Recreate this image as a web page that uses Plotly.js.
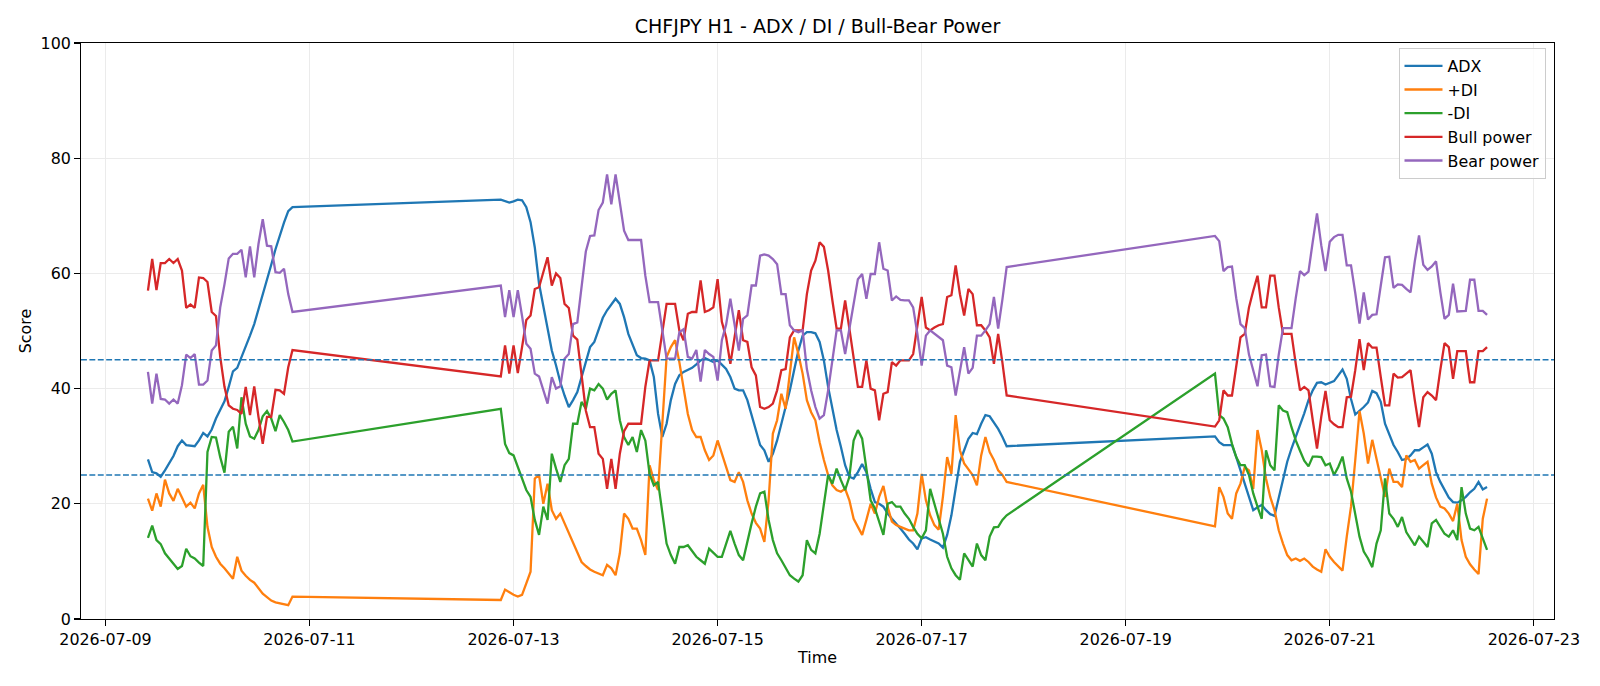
<!DOCTYPE html>
<html>
<head>
<meta charset="utf-8">
<script src="https://cdn.plot.ly/plotly-3.0.1.min.js"></script>
<style>
  html, body { margin: 0; padding: 0; background: #ffffff; }
  #chart { width: 1600px; height: 686px; }
</style>
</head>
<body>
<div id="chart"></div>
<script>
// ---- Data (hourly bars, CHFJPY H1; market closed over weekends) ----
const segmentStarts = ['2026-07-09 10:00', '2026-07-12 21:00', '2026-07-19 21:00'];
const segmentLengths = [35, 120, 65];

const adx = [
  // 2026-07-09 10:00 .. 2026-07-10 20:00
  27.7, 25.5, 25.3, 24.7, 25.8, 27.0, 28.3, 30.0, 31.0, 30.2, 30.1, 30.0, 31.0, 32.3, 31.7, 32.9, 34.8, 36.3,
  37.8, 40.3, 43.0, 43.6, 45.4, 47.5, 49.2, 51.2, 53.7, 56.2, 58.7, 61.5, 64.2, 66.7, 68.8, 70.8, 71.5,
  // 2026-07-12 21:00 .. 2026-07-17 20:00
  72.8, 72.5, 72.3, 72.5, 72.8, 72.7, 71.5, 68.9, 64.5, 58.2, 54.1, 50.4, 46.6, 44.0, 41.1, 38.8, 36.8, 38.0,
  39.4, 42.0, 44.6, 47.2, 48.1, 50.4, 52.3, 53.6, 54.7, 55.6, 54.7, 52.4, 49.5, 47.7, 45.8, 45.3, 45.2, 44.9,
  42.0, 35.6, 31.6, 33.9, 38.0, 40.8, 42.3, 42.9, 43.3, 43.6, 44.2, 44.9,
  45.3, 45.0, 44.6, 44.9, 44.2, 43.4, 42.0, 40.0, 39.7, 39.7, 38.0, 35.4, 32.5, 30.2, 29.3, 27.3, 28.7, 31.0,
  33.9, 36.8, 39.7, 43.2, 46.6, 49.2, 49.8, 49.8, 49.6, 48.1, 44.9, 40.3, 36.2, 32.8, 29.9, 26.7, 24.7, 24.4,
  25.5, 26.9, 25.5, 22.6, 20.3, 20.0, 19.5, 18.3, 17.4, 16.6, 15.7, 14.8, 13.8,
  13.1, 12.1, 14.0, 14.2, 13.8, 13.4, 13.1, 12.4, 14.6, 18.0, 22.6, 27.3, 29.3, 31.3, 32.3, 32.1, 33.9, 35.4,
  35.2, 34.2, 33.0, 31.6, 30.0,
  // 2026-07-19 21:00 .. 2026-07-22 13:00
  31.7, 30.7, 30.2, 30.2, 30.2, 28.1, 25.8, 23.2, 20.9, 18.9, 19.4, 19.8, 18.9, 18.2, 17.9, 21.2, 24.4, 27.3,
  29.6, 31.6, 33.6, 35.7,
  38.0, 39.7, 41.0, 41.1, 40.7, 41.0, 41.3, 42.3, 43.3, 41.7, 38.2, 35.5, 36.1, 36.8, 37.6, 39.6, 39.2, 37.7,
  33.9, 31.9, 30.2, 29.0, 27.6, 27.8, 28.4, 29.3, 29.3, 29.8, 30.3, 28.7, 25.5, 23.8, 22.4, 21.1, 20.3, 20.2,
  20.6, 21.2, 22.0, 22.6, 23.8, 22.5, 22.9
];

const plusDI = [
  20.9, 18.8, 21.8, 19.5, 24.2, 21.8, 20.5, 22.6, 21.1, 19.5, 20.2, 19.2, 21.8, 23.3, 16.0, 12.5, 10.8, 9.6,
  8.8, 7.9, 7.0, 10.8, 8.4, 7.5, 6.8, 6.3, 5.3, 4.4, 3.8, 3.2, 2.9, 2.7, 2.5, 2.4, 3.9,
  3.3, 5.1, 4.6, 4.2, 3.9, 4.2, 6.2, 8.2, 24.4, 25.0,
  20.0, 23.5, 18.9, 17.4, 18.3, 16.6, 14.8, 13.4, 11.7, 9.9, 9.2, 8.6, 8.2, 7.9, 7.6, 9.4, 8.8, 7.6,
  11.4, 18.3, 17.4, 15.7, 15.7, 13.7, 11.1, 26.7, 24.1, 22.4, 34.5, 45.5, 47.2, 48.4, 44.6, 40.3, 35.6, 32.8,
  31.6, 31.6, 29.3, 27.6,
  28.4, 31.0, 28.7, 26.7, 24.1, 23.8, 25.5, 23.8, 20.6, 18.3, 16.7, 15.7, 13.4, 20.6, 32.2, 34.5, 39.1, 36.5,
  42.6, 48.9, 46.0, 42.6, 38.0, 35.9, 34.5, 30.7, 27.6, 25.0, 23.2, 22.4, 22.1, 22.6, 20.6, 17.4, 16.0, 14.6,
  17.2, 20.0, 18.3, 21.2, 23.1, 19.5, 16.9, 16.3, 16.0, 15.7, 15.4, 15.4, 18.3, 25.2, 20.6, 18.0, 16.3, 15.5,
  21.2, 28.1, 25.2, 35.4, 29.3, 27.0, 26.1, 25.0, 23.2, 28.4, 31.6, 29.0, 27.6, 25.8, 25.0, 23.8,
  16.1, 22.9, 21.2, 18.3, 17.4, 21.8, 23.5, 26.4, 25.8, 22.6, 32.8, 29.3, 24.4, 21.2, 18.9, 15.4, 13.1, 11.1,
  10.2, 10.5, 10.1, 10.5,
  9.9, 9.1, 8.6, 8.2, 12.1, 10.8, 9.9, 9.1, 8.4, 14.3, 19.5, 27.6, 36.1, 32.2, 27.0, 31.1, 27.6, 24.1,
  21.2, 26.1, 23.8, 23.8, 22.9, 28.4, 27.3, 27.6, 26.1, 26.7, 27.3, 23.5, 21.1, 19.5, 19.2, 18.3, 17.0, 20.0,
  13.7, 10.8, 9.5, 8.6, 7.8, 17.4, 20.9
];

const minusDI = [
  14.1, 16.2, 13.7, 13.0, 11.4, 10.5, 9.8, 8.7, 9.2, 12.2, 10.9, 10.5, 9.8, 9.2, 29.0, 31.6, 31.5, 28.1,
  25.4, 32.5, 33.4, 29.6, 38.5, 33.9, 31.7, 31.3, 32.8, 35.2, 36.1, 34.8, 32.6, 35.4, 34.2, 32.8, 30.8,
  36.5, 30.4, 28.8, 28.4, 26.4, 24.1, 22.4, 21.2, 17.2, 14.6, 19.5, 17.2, 28.7, 26.1, 23.8, 26.7, 27.8, 33.9,
  33.9, 37.7, 36.5, 40.0, 39.7, 40.8, 40.0, 38.1, 39.1, 39.7, 34.5, 31.6, 30.2, 31.6, 29.0, 32.8, 31.0, 25.2,
  23.2, 23.8, 18.3, 13.1, 11.1, 9.6, 12.5, 12.5, 12.8, 11.7, 10.8, 10.2,
  9.6, 12.2, 11.5, 10.8, 10.8, 13.1, 15.3, 13.1, 11.1, 10.2, 13.7, 16.6, 19.5, 21.8, 22.1, 17.2, 13.7, 11.4,
  10.2, 8.8, 7.6, 7.0, 6.5, 7.6, 13.7, 12.0, 11.4, 14.8, 19.5, 25.0, 23.5, 26.1, 24.1, 22.4, 24.7, 31.0,
  32.8, 31.3, 26.1, 20.6, 19.2, 16.9, 14.6, 20.0, 20.3, 19.5, 19.5, 18.3, 17.4,
  16.0, 14.8, 14.0, 15.4, 22.6, 20.0, 17.7, 14.8, 10.8, 8.8, 7.6, 6.8, 11.4, 10.2, 9.1, 13.1, 11.1, 10.2,
  14.3, 15.9, 16.0, 17.2, 18.0,
  42.6, 35.4, 34.8, 33.3, 30.4, 28.1, 26.7, 26.7, 25.0, 21.8, 19.5, 17.4, 29.3, 26.7, 25.8, 37.1, 36.2, 35.9,
  33.3, 31.0, 29.2, 27.5,
  26.5, 28.2, 28.2, 28.1, 26.7, 27.0, 25.0, 26.4, 28.2, 24.4, 22.1, 18.3, 14.3, 11.7, 10.5, 9.0, 13.1, 15.4,
  24.4, 18.3, 17.4, 16.0, 17.7, 15.1, 14.0, 12.8, 14.3, 13.4, 12.5, 16.6, 17.2, 16.0, 14.8, 14.3, 15.4, 13.7,
  22.9, 18.3, 15.7, 15.4, 16.0, 14.0, 12.0
];

const bullPower = [
  57.0, 62.5, 57.1, 61.8, 61.8, 62.5, 61.8, 62.5, 60.5, 54.0, 54.6, 54.0, 59.3, 59.2, 58.5, 53.3, 52.6, 45.5,
  40.3, 37.1, 36.5, 36.3, 35.6, 40.3, 35.4, 40.4, 35.1, 30.4, 35.1, 35.1, 39.8, 39.7, 39.1, 43.7, 46.7,
  42.1, 47.5, 42.6, 47.5, 42.7, 47.2, 51.9, 52.7, 57.3, 57.6, 60.2, 62.8, 57.9, 60.0, 59.2, 54.7, 54.0, 49.2,
  48.5, 42.0, 36.2, 33.3, 33.3, 28.7, 27.8, 22.6, 27.8, 22.6, 28.7, 32.6, 33.9, 33.9, 33.9, 33.9, 40.3, 44.9,
  44.9, 44.9, 49.8, 54.7, 54.7, 54.7, 50.1, 48.4, 53.0, 53.3, 53.3, 58.8,
  53.3, 53.6, 54.1, 59.0, 51.6, 48.9, 44.3, 48.9, 53.6, 48.4, 48.1, 43.7, 42.3, 36.8, 36.5, 36.8, 37.4, 39.7,
  43.2, 43.4, 48.9, 50.1, 50.1, 50.1, 56.4, 60.5, 62.2, 65.4, 64.6, 60.5, 55.3, 50.4, 50.4, 55.3, 50.4, 44.9,
  40.3, 40.3, 44.9, 40.0, 39.7, 34.5, 39.1, 39.4, 44.6, 44.0, 44.9, 44.9, 44.9,
  46.0, 50.6, 55.9, 50.6, 50.1, 50.6, 51.0, 51.2, 55.9, 56.2, 61.4, 56.4, 52.7, 57.3, 56.4, 51.0, 51.0, 50.1,
  48.9, 44.3, 49.5, 44.5, 38.8,
  33.4, 34.5, 39.7, 38.8, 38.8, 44.3, 48.9, 49.5, 54.1, 57.0, 59.6, 54.1, 54.1, 59.6, 59.6, 54.1, 49.5, 49.5,
  49.5, 44.3, 39.7, 40.3,
  39.7, 34.5, 29.6, 35.1, 39.6, 34.5, 33.8, 33.3, 33.3, 38.5, 38.6, 43.2, 48.6, 43.2, 47.9, 47.1, 47.1, 42.0,
  37.1, 37.1, 42.6, 41.9, 42.0, 42.6, 43.2, 38.0, 33.3, 38.5, 39.4, 38.8, 38.0, 43.2, 47.9, 47.2, 41.7, 46.5,
  46.5, 46.5, 41.1, 41.1, 46.5, 46.5, 47.2
];

const bearPower = [
  42.9, 37.4, 42.6, 38.2, 38.1, 37.4, 38.1, 37.4, 40.6, 45.9, 45.3, 46.0, 40.7, 40.7, 41.4, 46.6, 47.5, 54.1,
  58.1, 62.6, 63.4, 63.4, 64.1, 59.3, 64.7, 59.3, 65.1, 69.4, 64.8, 64.7, 60.2, 60.1, 60.8, 56.4, 53.3,
  57.9, 52.4, 57.1, 52.4, 57.1, 52.6, 47.8, 46.9, 42.6, 42.1, 39.9, 37.4, 42.0, 40.0, 40.4, 45.2, 46.0, 51.2,
  51.5, 58.0, 63.8, 66.5, 66.6, 71.0, 72.3, 77.2, 72.0, 77.2, 72.0, 67.4, 65.8, 65.8, 65.8, 65.8, 59.6, 55.0,
  55.0, 55.0, 50.1, 45.2, 45.2, 45.2, 49.8, 50.3, 45.5, 45.2, 46.7, 41.2,
  46.7, 46.0, 45.5, 41.4, 48.4, 51.1, 55.6, 51.2, 46.6, 52.1, 52.7, 57.9, 57.9, 63.1, 63.3, 63.1, 62.5, 61.6,
  56.4, 56.4, 51.0, 50.1, 49.8, 50.1, 43.4, 39.7, 36.8, 34.8, 35.4, 39.7, 44.9, 50.1, 50.1, 46.0, 50.4, 55.0,
  59.0, 59.9, 55.6, 59.9, 59.9, 65.4, 60.8, 60.5, 55.3, 56.0, 55.4, 55.3, 55.3,
  54.1, 49.5, 44.0, 49.2, 50.1, 49.5, 48.9, 48.4, 44.0, 43.7, 38.8, 43.4, 47.2, 42.6, 43.6, 49.2, 49.2, 50.1,
  51.2, 55.9, 50.4, 55.5, 61.1,
  66.5, 65.6, 60.4, 61.1, 61.2, 55.7, 51.2, 50.5, 45.9, 43.0, 40.4, 45.8, 45.9, 40.4, 40.3, 45.9, 50.5, 50.5,
  50.5, 55.7, 60.4, 59.7,
  60.3, 65.5, 70.4, 64.9, 60.4, 65.5, 66.3, 66.7, 66.7, 61.4, 61.4, 56.6, 51.3, 56.7, 52.0, 52.8, 52.9, 57.9,
  62.8, 62.9, 57.5, 58.1, 58.0, 57.3, 56.7, 62.1, 66.6, 61.5, 60.6, 61.2, 62.1, 56.8, 52.1, 52.8, 58.2, 53.4,
  53.5, 53.5, 58.9, 58.9, 53.5, 53.5, 52.8
];

const seriesNames = ['ADX', '+DI', '-DI', 'Bull power', 'Bear power'];
const seriesColors = ['#1f77b4', '#ff7f0e', '#2ca02c', '#d62728', '#9467bd'];
const thresholdLevels = [45, 25];
const xTickStart = '2026-07-09';
const xRange = ['2026-07-08 18:15', '2026-07-23 04:45'];

// ---- Build hourly timestamps for each trading segment ----
function pad(n) { return (n < 10 ? '0' : '') + n; }
function buildTimes() {
  const out = [];
  segmentStarts.forEach((s, k) => {
    const [d, t] = s.split(' ');
    const [Y, M, D] = d.split('-').map(Number);
    const [h, m] = t.split(':').map(Number);
    const base = Date.UTC(Y, M - 1, D, h, m);
    for (let i = 0; i < segmentLengths[k]; i++) {
      const dt = new Date(base + i * 3600000);
      out.push(dt.getUTCFullYear() + '-' + pad(dt.getUTCMonth() + 1) + '-' + pad(dt.getUTCDate()) +
               ' ' + pad(dt.getUTCHours()) + ':' + pad(dt.getUTCMinutes()));
    }
  });
  return out;
}
const times = buildTimes();

const allSeries = [adx, plusDI, minusDI, bullPower, bearPower];
const traces = allSeries.map((vals, i) => ({
  type: 'scatter',
  mode: 'lines',
  x: times,
  y: vals,
  name: seriesNames[i],
  line: { color: seriesColors[i], width: 2.3 },
  hoverinfo: 'x+y+name'
}));

const FONT = 'DejaVu Sans, Liberation Sans, sans-serif';
const FS = 15.9;

const layout = {
  width: 1600,
  height: 686,
  paper_bgcolor: '#ffffff',
  plot_bgcolor: '#ffffff',
  font: { family: FONT, size: FS, color: '#000000' },
  margin: { l: 81, r: 46, t: 43, b: 67 },
  title: {
    text: 'CHFJPY H1 - ADX / DI / Bull-Bear Power',
    font: { family: FONT, size: 19, color: '#000000' },
    x: 0.5, xref: 'paper', xanchor: 'center',
    y: 1 - 26.5 / 686, yref: 'container', yanchor: 'middle'
  },
  xaxis: {
    type: 'date',
    range: xRange,
    tick0: xTickStart,
    dtick: 2 * 86400000,
    tickformat: '%Y-%m-%d',
    ticks: 'outside', ticklen: 5.6, tickwidth: 1.27, tickcolor: '#000000',
    showline: true, mirror: true, linecolor: '#000000', linewidth: 1.27,
    showgrid: true, gridcolor: '#ebebeb', gridwidth: 1.1,
    zeroline: false,
    tickfont: { family: FONT, size: FS, color: '#000000' },
    title: { text: 'Time', font: { family: FONT, size: FS, color: '#000000' }, standoff: 4 }
  },
  yaxis: {
    range: [0, 100],
    tick0: 0, dtick: 20,
    ticks: 'outside', ticklen: 5.6, tickwidth: 1.27, tickcolor: '#000000',
    showline: true, mirror: true, linecolor: '#000000', linewidth: 1.27,
    showgrid: true, gridcolor: '#ebebeb', gridwidth: 1.1,
    zeroline: false,
    tickfont: { family: FONT, size: FS, color: '#000000' },
    title: { text: 'Score', font: { family: FONT, size: FS, color: '#000000' }, standoff: 5 }
  },
  shapes: thresholdLevels.map(v => ({
    type: 'line', xref: 'paper', x0: 0, x1: 1, yref: 'y', y0: v, y1: v,
    line: { color: '#1f77b4', width: 1.6, dash: '5.9px,2.5px' },
    layer: 'above'
  })),
  legend: {
    x: (1545.5 - 81) / 1473, xanchor: 'right',
    y: (619 - 48) / 576, yanchor: 'top',
    bgcolor: 'rgba(255,255,255,0.8)',
    bordercolor: '#cccccc', borderwidth: 1,
    font: { family: FONT, size: FS, color: '#000000' },
    itemwidth: 38
  },
  showlegend: true
};

Plotly.newPlot('chart', traces, layout, { staticPlot: true, displayModeBar: false });
</script>
</body>
</html>
